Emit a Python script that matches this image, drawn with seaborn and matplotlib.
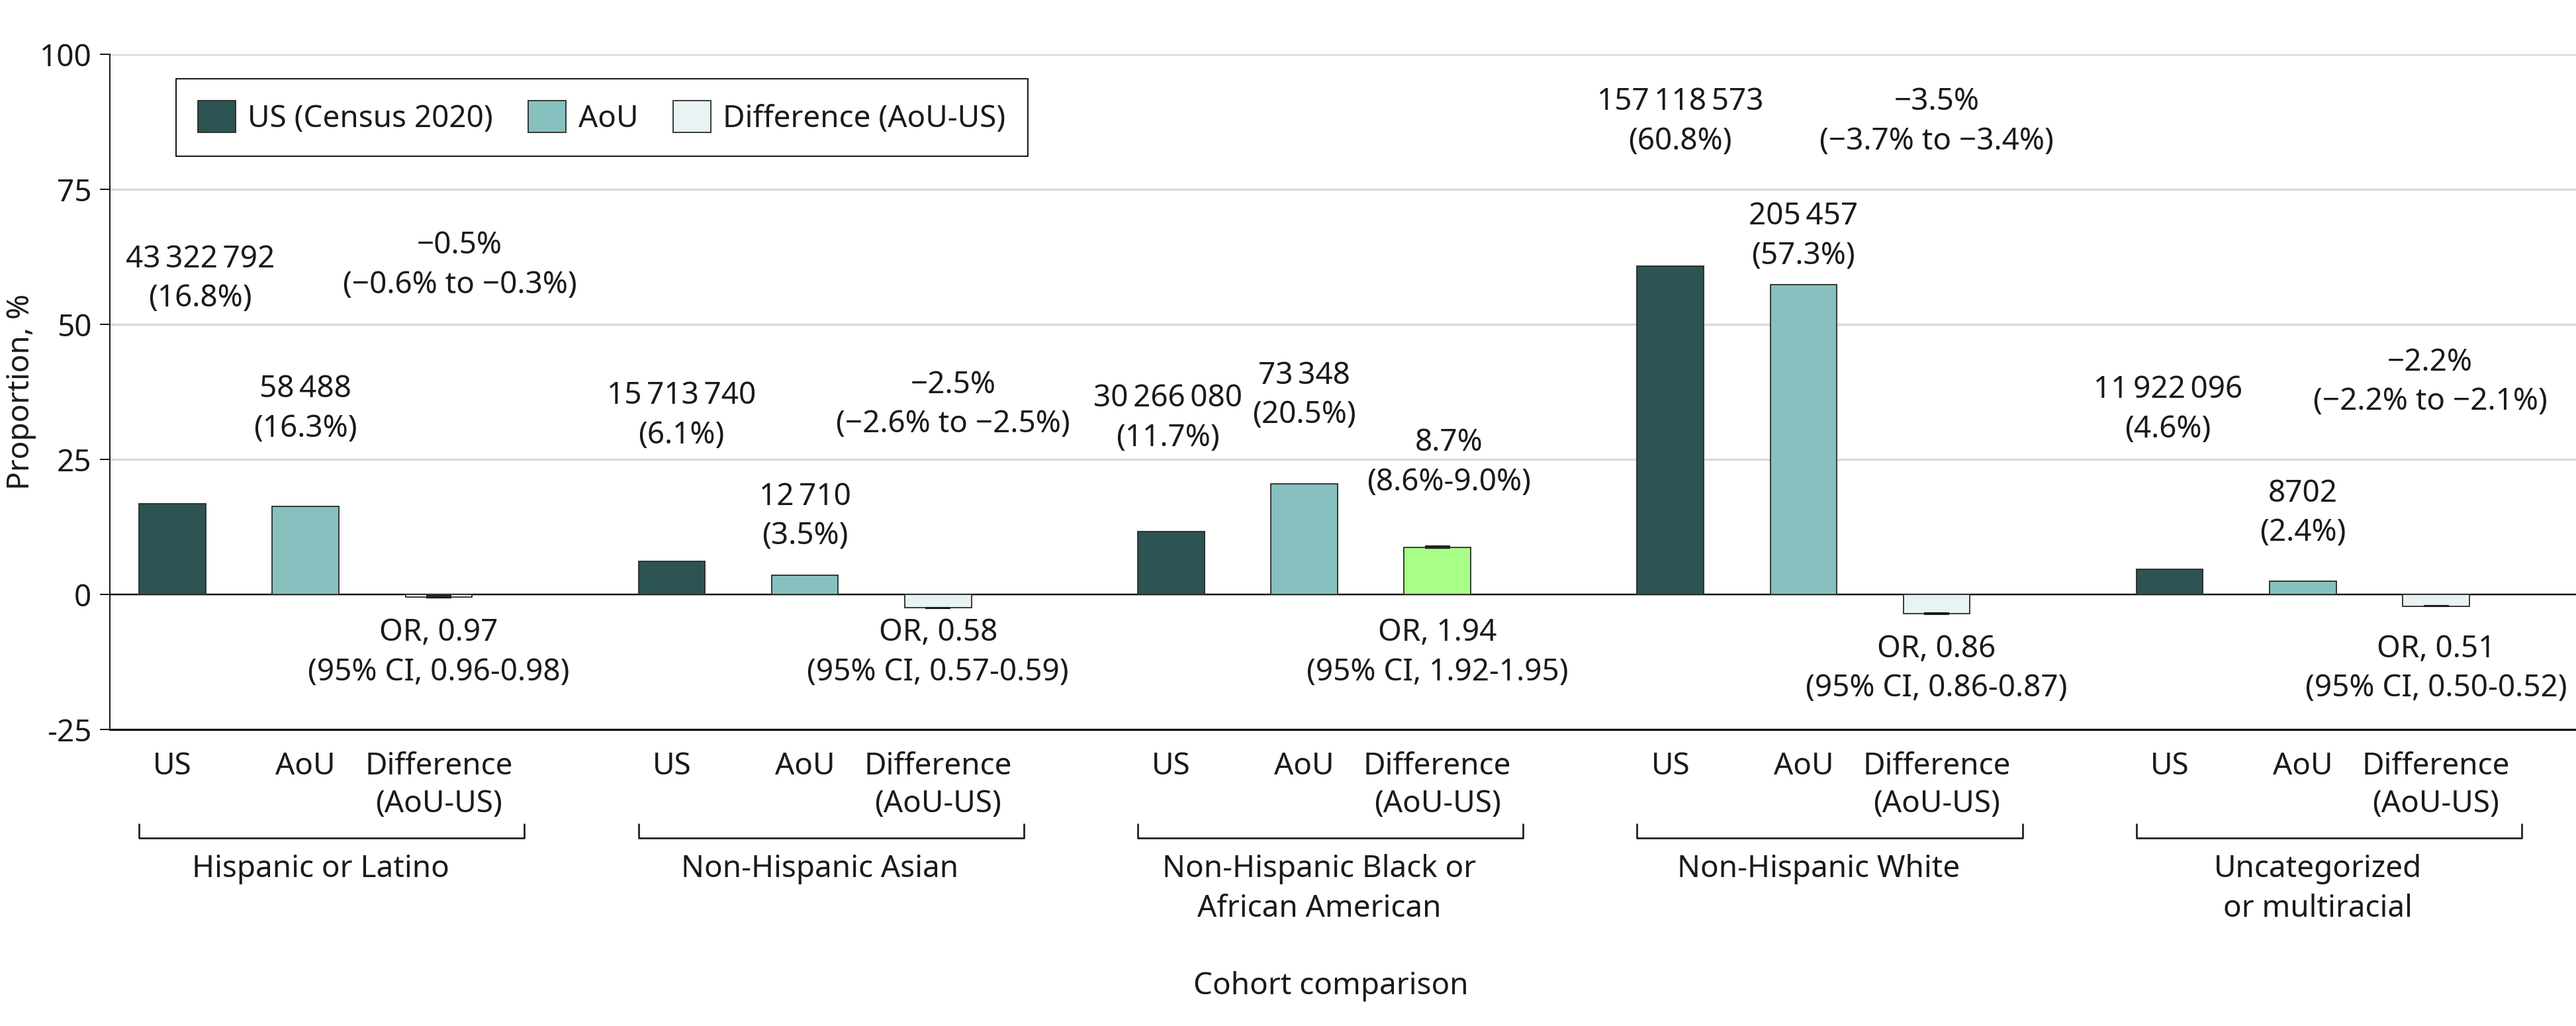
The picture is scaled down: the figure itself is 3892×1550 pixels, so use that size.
import numpy as np
import pandas as pd
import matplotlib
matplotlib.use("Agg")
import matplotlib.pyplot as plt
import matplotlib.transforms as mtransforms
import seaborn as sns

# ===== data =====
groups = ["Hispanic or Latino", "Non-Hispanic Asian", "Non-Hispanic Black or\nAfrican American",
          "Non-Hispanic White", "Uncategorized\nor multiracial"]
cohorts = ["US (Census 2020)", "AoU", "Difference (AoU-US)"]
tick_names = ["US", "AoU", "Difference\n(AoU-US)"]

us_n = [43322792, 15713740, 30266080, 157118573, 11922096]
us_pct = [16.8, 6.1, 11.7, 60.8, 4.6]
aou_n = [58488, 12710, 73348, 205457, 8702]
aou_pct = [16.3, 3.5, 20.5, 57.3, 2.4]
diff_pct = [-0.5, -2.5, 8.7, -3.5, -2.2]
diff_lo = [-0.6, -2.6, 8.6, -3.7, -2.2]
diff_hi = [-0.3, -2.5, 9.0, -3.4, -2.1]
odds_ratio = [0.97, 0.58, 1.94, 0.86, 0.51]
or_lo = [0.96, 0.57, 1.92, 0.86, 0.50]
or_hi = [0.98, 0.59, 1.95, 0.87, 0.52]

# where the text blocks sit (middle of the two lines, in %) and small sideways nudges
us_label_y = [58.4, 33.1, 32.6, 87.5, 34.2]
aou_label_y = [34.3, 14.4, 36.8, 66.3, 15.0]
diff_label_y = [60.9, 35.1, 24.4, 87.5, 39.3]
or_label_y = [-10.8, -10.8, -10.8, -13.8, -13.8]
us_label_dx = [0.056, 0.019, -0.006, 0.02, -0.004]
diff_label_dx = [0.042, 0.03, 0.023, 0.0, -0.012]

colors = ["#2b5453", "#86c1bf", "#e9f3f3"]
pos_color = "#a8ff88"

df = pd.DataFrame({
    "group": groups * 3,
    "cohort": [c for c in cohorts for _ in groups],
    "pct": us_pct + aou_pct + diff_pct,
})

sns.set_theme(style="white")
plt.rcParams["font.family"] = ["Noto Sans", "DejaVu Sans"]
plt.rcParams["axes.unicode_minus"] = False
FS = 33
TXT = "#1a1a1a"
LS = 1.38

fig = plt.figure(figsize=(38.92, 15.5), dpi=100)
ax = fig.add_axes([166 / 3892, 448 / 1550, 3726 / 3892, 1020 / 1550])

sns.barplot(data=df, x="group", y="pct", hue="cohort", order=groups, hue_order=cohorts,
            palette=colors, saturation=1, width=0.8, gap=0.5, edgecolor="#2a2a2a",
            linewidth=1.3, errorbar=None, ax=ax, zorder=3)

# positive difference gets the green fill
for bar, d in zip(ax.containers[2], diff_pct):
    if d > 0:
        bar.set_facecolor(pos_color)

def fmt_n(n):
    return f"{n:,}".replace(",", "\u2009") if n >= 10000 else str(n)

def fmt_p(v):
    return f"{v:.1f}%".replace("-", "\u2212")

us_bars, aou_bars, diff_bars = ax.containers[0], ax.containers[1], ax.containers[2]
cx = lambda b: b.get_x() + b.get_width() / 2

for i in range(len(groups)):
    ax.text(cx(us_bars[i]) + us_label_dx[i], us_label_y[i],
            f"{fmt_n(us_n[i])}\n({us_pct[i]:.1f}%)",
            ha="center", va="center", fontsize=FS, color=TXT, linespacing=LS)
    ax.text(cx(aou_bars[i]), aou_label_y[i], f"{fmt_n(aou_n[i])}\n({aou_pct[i]:.1f}%)",
            ha="center", va="center", fontsize=FS, color=TXT, linespacing=LS)
    if diff_pct[i] < 0:
        dtxt = f"{fmt_p(diff_pct[i])}\n({fmt_p(diff_lo[i])} to {fmt_p(diff_hi[i])})"
    else:
        dtxt = f"{fmt_p(diff_pct[i])}\n({fmt_p(diff_lo[i])}-{fmt_p(diff_hi[i])})"
    ax.text(cx(diff_bars[i]) + diff_label_dx[i], diff_label_y[i], dtxt,
            ha="center", va="center", fontsize=FS, color=TXT, linespacing=LS)
    ax.text(cx(diff_bars[i]), or_label_y[i],
            f"OR, {odds_ratio[i]:.2f}\n(95% CI, {or_lo[i]:.2f}-{or_hi[i]:.2f})",
            ha="center", va="center", fontsize=FS, color=TXT, linespacing=LS)

# CI whiskers on the difference bars
dx = [cx(b) for b in diff_bars]
yerr = [np.array(diff_pct) - np.array(diff_lo), np.array(diff_hi) - np.array(diff_pct)]
ax.errorbar(dx, diff_pct, yerr=yerr, fmt="none", ecolor="#1a1a1a", elinewidth=1.5,
            capsize=14, capthick=1.5, zorder=4)

# axes styling
ax.set_xlim(-0.392, 4.547)
ax.set_ylim(-25, 100)
ax.set_yticks([-25, 0, 25, 50, 75, 100])
ax.yaxis.grid(True, color="#d9d9d9", linewidth=2.5)
ax.set_axisbelow(True)
ax.axhline(0, color="black", linewidth=1.6, zorder=2)
for s in ["top", "right"]:
    ax.spines[s].set_visible(False)
ax.spines["left"].set_color("black")
ax.spines["left"].set_linewidth(1.3)
ax.spines["bottom"].set_color("black")
ax.spines["bottom"].set_linewidth(2.2)
ax.tick_params(axis="y", left=True, length=11, width=1.3, color="black", pad=9,
               labelsize=FS, labelcolor=TXT)

xt, xl = [], []
for k, cont in enumerate(ax.containers[:3]):
    for b in cont:
        xt.append(cx(b))
        xl.append(tick_names[k])
ax.set_xticks(xt, xl)
ax.tick_params(axis="x", bottom=False, length=0, pad=24, labelsize=FS, labelcolor=TXT)
for t in ax.get_xticklabels():
    t.set_linespacing(1.3)
ax.set_xlabel("")
ax.set_ylabel("")

# group brackets and labels below the ticks
trans = mtransforms.blended_transform_factory(ax.transData, ax.transAxes)
bw = us_bars[0].get_width()
for i, g in enumerate(groups):
    x0 = us_bars[i].get_x()
    x1 = diff_bars[i].get_x() + bw + 0.105
    ax.plot([x0, x0, x1, x1], [-0.140, -0.1606, -0.1606, -0.140], color="#222222",
            linewidth=2, transform=trans, clip_on=False)
    ax.text(i + 0.03, -0.184, g, transform=trans, ha="center", va="top",
            fontsize=FS, color=TXT, linespacing=1.4)

ax.text(0.495, -0.392, "Cohort comparison", transform=ax.transAxes, ha="center",
        va="baseline", fontsize=FS, color=TXT)
ax.text(-0.036, 0.5, "Proportion, %", transform=ax.transAxes, rotation=90, ha="center",
        va="center", fontsize=FS, color=TXT)

# legend
handles, labels = ax.get_legend_handles_labels()
for h, c in zip(handles, colors):
    h.set_facecolor(c)
    h.set_edgecolor("#2a2a2a")
    h.set_linewidth(1.3)
leg = ax.legend(handles, labels, loc="upper left", bbox_to_anchor=(0.0268, 0.9638),
                borderaxespad=0, ncol=3, frameon=True, fancybox=False, framealpha=1,
                edgecolor="black", handlelength=1.25, handleheight=1.25, handletextpad=0.4,
                columnspacing=1.15, borderpad=0.72, fontsize=FS)
leg.get_frame().set_linewidth(1.3)
for t in leg.get_texts():
    t.set_color(TXT)

fig.savefig("out.png", dpi=100)
